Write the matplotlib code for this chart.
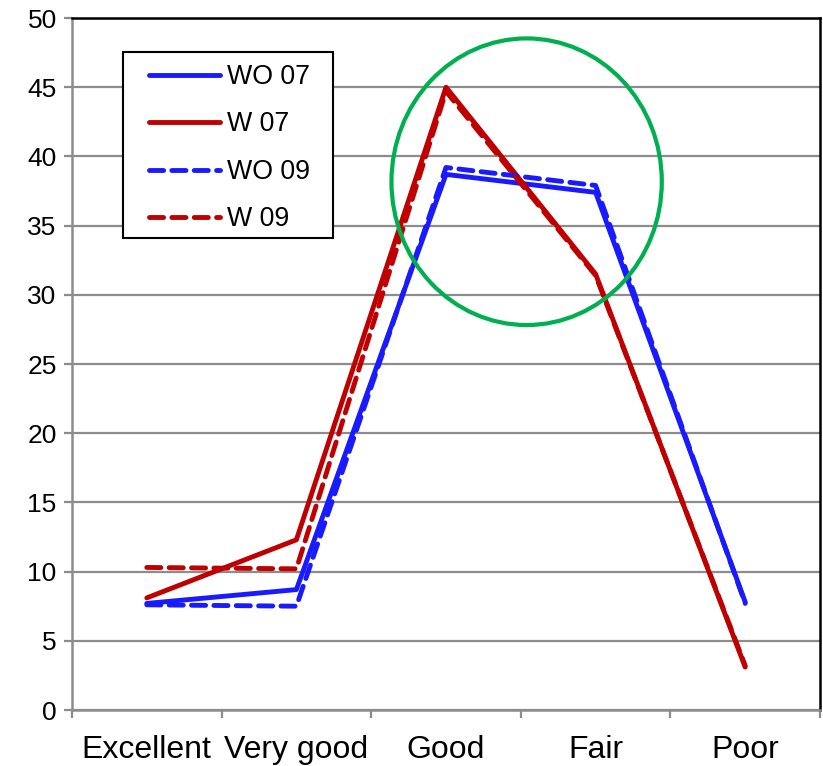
import matplotlib
matplotlib.use("Agg")
import matplotlib.pyplot as plt
from matplotlib.patches import Ellipse, Rectangle

plt.rcParams['font.family'] = ['Liberation Sans', 'DejaVu Sans']

categories = ["Excellent", "Very good", "Good", "Fair", "Poor"]
wo07 = [7.7, 8.7, 38.7, 37.4, 7.8]
w07 = [8.1, 12.3, 45.0, 31.5, 3.1]
wo09 = [7.6, 7.5, 39.2, 37.9, 7.7]
w09 = [10.3, 10.2, 44.7, 31.4, 3.2]
yticks = [0, 5, 10, 15, 20, 25, 30, 35, 40, 45, 50]

W, H = 823, 766
fig = plt.figure(figsize=(W / 100, H / 100), dpi=100)
ax = fig.add_axes([72 / W, (H - 710) / H, (820 - 72) / W, (710 - 18) / H])

blue = "#1a1aff"
red = "#c00000"
xs = [i + 0.5 for i in range(len(categories))]
lw = 3.5
ax.plot(xs, wo07, color=blue, lw=lw, label="WO 07", solid_capstyle='round', solid_joinstyle='round', zorder=3)
ax.plot(xs, w07, color=red, lw=lw, label="W 07", solid_capstyle='round', solid_joinstyle='round', zorder=3)
ax.plot(xs, wo09, color=blue, lw=lw, ls=(0, (2.9, 1.7)), label="WO 09", dash_capstyle='round', zorder=3)
ax.plot(xs, w09, color=red, lw=lw, ls=(0, (2.9, 1.7)), label="W 09", dash_capstyle='round', zorder=3)

ax.set_xlim(0, len(categories))
ax.set_ylim(0, 50)
ax.set_yticks(yticks)
ax.set_yticklabels([str(v) for v in yticks], fontsize=19)
ax.yaxis.grid(True, color="#8c8c8c", lw=1.6)
ax.set_axisbelow(True)

ax.set_xticks(range(len(categories) + 1))
ax.set_xticklabels([""] * (len(categories) + 1))
ax.set_xticks(xs, minor=True)
ax.set_xticklabels(categories, minor=True, fontsize=23)
ax.tick_params(axis='x', which='minor', length=0, pad=18)
ax.tick_params(axis='x', which='major', length=6, width=1.6, color="#8c8c8c", direction='out')
ax.tick_params(axis='y', length=6, width=1.6, color="#8c8c8c", direction='out', pad=5)

for s in ['left', 'bottom']:
    ax.spines[s].set_color("#8c8c8c")
    ax.spines[s].set_linewidth(1.8)
for s in ['top', 'right']:
    ax.spines[s].set_color("black")
    ax.spines[s].set_linewidth(1.8)

# highlight circle (in data coordinates)
ell = Ellipse((3.039, 38.17), width=1.807, height=20.71, fill=False,
              edgecolor="#00b050", lw=3.0, zorder=4, clip_on=False)
ax.add_patch(ell)

# legend frame (drawn within the axes so the legend can sit on top)
frame = Rectangle((123 / W, 1 - 238 / H), (333 - 123) / W, (238 - 52) / H,
                  transform=fig.transFigure, facecolor='white', edgecolor='black',
                  lw=1.5, zorder=4.5, clip_on=False)
ax.add_artist(frame)

leg = ax.legend(loc='upper left', bbox_to_anchor=((149 - 72) / 748, (710 - 64) / 692),
                borderaxespad=0, borderpad=0, fontsize=19.3, handlelength=2.65,
                handletextpad=0.26, labelspacing=0.8, frameon=False)
leg.set_zorder(6)

fig.savefig("out.png", dpi=100)
